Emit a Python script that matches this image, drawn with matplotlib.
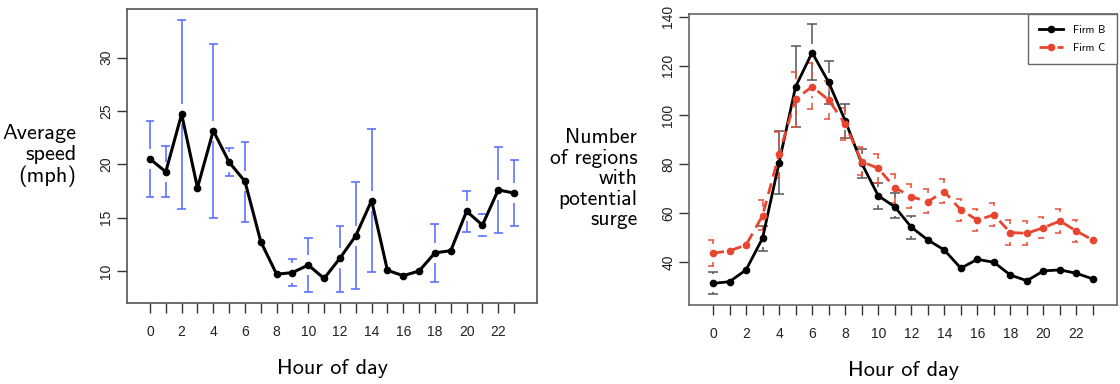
import numpy as np
import matplotlib
matplotlib.use("Agg")
import matplotlib.pyplot as plt

hours = np.arange(24)
tick_labels = [str(h) if h % 2 == 0 else "" for h in hours]

# average speed (mph) with lower / upper interval ends
speed = [20.5, 19.3, 24.7, 17.8, 23.15, 20.2, 18.4, 12.75, 9.7, 9.85, 10.56, 9.3,
         11.2, 13.3, 16.6, 10.06, 9.56, 10.0, 11.7, 11.9, 15.6, 14.3, 17.6, 17.3]
speed_lo = [16.97, 16.9, 15.8, 17.3, 15.0, 18.9, 14.6, 12.3, 9.4, 8.6, 8.06, 9.0,
            8.06, 8.3, 9.9, 9.7, 9.2, 9.7, 8.97, 11.4, 13.7, 13.3, 13.56, 14.25]
speed_hi = [24.06, 21.7, 33.5, 18.3, 31.3, 21.5, 22.1, 13.3, 10.0, 11.1, 13.06, 9.6,
            14.2, 18.3, 23.3, 10.4, 9.9, 10.3, 14.4, 12.4, 17.5, 15.3, 21.6, 20.4]

# regions with potential surge
firm_b = [31.4, 32.1, 36.9, 49.8, 80.6, 111.5, 125.4, 113.3, 97.7, 80.3, 67.1, 62.6,
          54.3, 49.1, 45.0, 37.6, 41.2, 40.0, 34.8, 32.5, 36.5, 36.9, 35.5, 33.2]
firm_b_lo = [27.0, 29.5, 34.0, 44.6, 67.7, 95.2, 114.1, 104.5, 90.8, 74.5, 61.7, 57.9,
             49.6, 45.8, 41.8, 34.5, 38.0, 36.8, 31.6, 29.3, 33.3, 33.7, 32.3, 30.0]
firm_b_hi = [35.9, 34.7, 39.8, 54.9, 93.5, 128.2, 137.0, 122.1, 104.5, 86.3, 72.4, 68.1,
             58.9, 52.4, 48.2, 40.7, 44.4, 43.2, 38.0, 35.7, 39.7, 40.1, 38.7, 36.4]
firm_c = [43.7, 44.7, 47.0, 59.0, 84.0, 106.5, 111.5, 106.1, 96.3, 81.0, 78.3, 70.4,
          66.7, 64.7, 68.8, 61.3, 57.2, 59.3, 52.1, 51.8, 54.1, 56.8, 52.7, 49.0]
firm_c_lo = [38.6, 42.0, 44.5, 53.2, 74.2, 95.0, 102.4, 98.4, 89.8, 75.6, 72.4, 64.3,
             62.0, 60.0, 64.0, 56.8, 52.7, 54.8, 47.0, 47.0, 49.8, 51.8, 48.1, 46.0]
firm_c_hi = [49.1, 47.4, 49.5, 65.4, 93.0, 117.6, 121.0, 113.8, 102.7, 87.0, 84.0, 76.0,
             71.8, 69.9, 73.9, 65.8, 61.7, 64.3, 57.2, 56.8, 58.6, 61.7, 57.2, 52.0]

LABEL_FONT = "cmss10"
TICK_FONT = "Liberation Sans"


def gapped_ci(ax, x, y, lo, hi, gap_px, cap, color, lw=1.1, ls="-"):
    """Interval bars that leave a gap around each point, like plotCI(gap=...)."""
    fig = ax.figure
    y0, y1 = ax.get_ylim()
    h_px = ax.get_position().height * fig.get_figheight() * fig.dpi
    gap = gap_px * (y1 - y0) / h_px
    for xi, yi, l, h in zip(x, y, lo, hi):
        if h > yi + gap:
            ax.vlines(xi, yi + gap, h, color=color, lw=lw, linestyles=ls, zorder=1)
            ax.hlines(h, xi - cap, xi + cap, color=color, lw=lw, linestyles=ls, zorder=1)
        if l < yi - gap:
            ax.vlines(xi, l, yi - gap, color=color, lw=lw, linestyles=ls, zorder=1)
            ax.hlines(l, xi - cap, xi + cap, color=color, lw=lw, linestyles=ls, zorder=1)


def style_axes(ax, ylim, yticks, box_color):
    ax.set_xlim(-1.45, 24.45)
    ax.set_ylim(*ylim)
    ax.set_xticks(hours)
    ax.set_xticklabels(tick_labels, fontsize=10, family=TICK_FONT, color="#222222")
    ax.set_yticks(yticks)
    ax.set_yticklabels([str(t) for t in yticks], fontsize=10, family=TICK_FONT,
                       color="#222222", rotation=90, va="center")
    ax.tick_params(axis="x", length=7, width=1, color="#333333", pad=9)
    ax.tick_params(axis="y", length=7, width=1, color="#333333", pad=3)
    for s in ax.spines.values():
        s.set_color(box_color)
        s.set_linewidth(1.2)
    ax.set_xlabel("Hour of day", family=LABEL_FONT, fontsize=16, labelpad=14)


fig = plt.figure(figsize=(11.2, 3.84), dpi=100)

# left: average speed
ax1 = fig.add_axes([0.1134, 0.2109, 0.3661, 0.7656])
style_axes(ax1, (7.0, 34.55), [10, 15, 20, 25, 30], "#555555")
gapped_ci(ax1, hours, speed, speed_lo, speed_hi, gap_px=10, cap=0.28, color="#5068ff")
ax1.plot(hours, speed, color="black", lw=2.2, marker="o", ms=4.5, zorder=3)
fig.text(0.068, 0.595, "Average\nspeed\n(mph)", family=LABEL_FONT, fontsize=16,
         ha="right", va="center", ma="right", linespacing=1.1)

# right: regions with potential surge
ax2 = fig.add_axes([0.6152, 0.2057, 0.3821, 0.7578])
style_axes(ax2, (22.6, 141.1), [40, 60, 80, 100, 120, 140], "#666666")
gapped_ci(ax2, hours, firm_b, firm_b_lo, firm_b_hi, gap_px=9, cap=0.3, color="#555555")
gapped_ci(ax2, hours, firm_c, firm_c_lo, firm_c_hi, gap_px=9, cap=0.3, color="#e8503a",
          ls=(0, (4, 3)))
ax2.plot(hours, firm_b, color="black", lw=2.0, marker="o", ms=4.5, zorder=3, label="Firm B")
ax2.plot(hours, firm_c, color="#e8452e", lw=2.0, ls=(0, (4, 2.5)), marker="o", ms=4.5,
         zorder=3, label="Firm C")
leg = ax2.legend(loc="upper right", borderaxespad=0, fancybox=False, framealpha=1,
                 edgecolor="#666666", prop={"family": LABEL_FONT, "size": 8},
                 handlelength=2.2, borderpad=1.0, labelspacing=0.7, handletextpad=0.9)
leg.get_frame().set_linewidth(1.0)
fig.text(0.569, 0.535, "Number\nof regions\nwith\npotential\nsurge", family=LABEL_FONT,
         fontsize=15.5, ha="right", va="center", ma="right", linespacing=1.1)

fig.savefig("out.png", dpi=100, facecolor="white")
